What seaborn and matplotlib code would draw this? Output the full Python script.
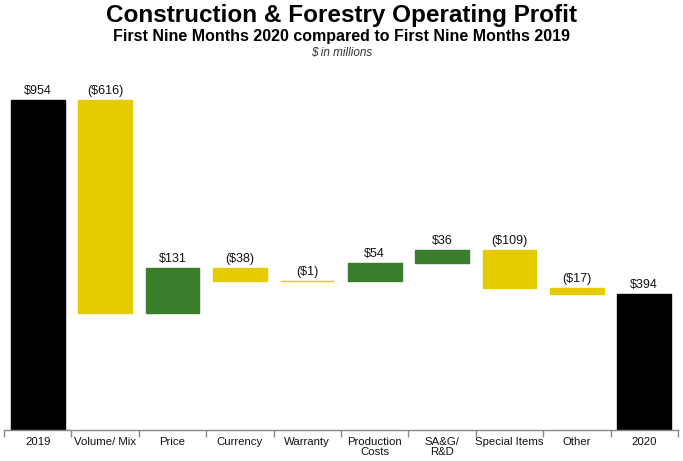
import numpy as np
import pandas as pd
import matplotlib
matplotlib.use("Agg")
import matplotlib.pyplot as plt
import seaborn as sns

# ===============================
# DATA
# ===============================
categories = ["2019", "Volume/ Mix", "Price", "Currency", "Warranty",
              "Production\nCosts", "SA&G/\nR&D", "Special Items", "Other", "2020"]
changes = [954, -616, 131, -38, -1, 54, 36, -109, -17, 394]
kinds = ["total", "neg", "pos", "neg", "neg", "pos", "pos", "neg", "neg", "total"]
labels = ["$954", "($616)", "$131", "($38)", "($1)", "$54", "$36", "($109)", "($17)", "$394"]

colors = {"total": "#000000", "pos": "#3A7D2A", "neg": "#E4CC00"}

# waterfall bottoms / heights
bottoms = []
heights = []
running = 0
for v, k in zip(changes, kinds):
    if k == "total":
        bottoms.append(0)
        heights.append(v)
        running = v
    else:
        new = running + v
        bottoms.append(min(running, new))
        heights.append(abs(v))
        running = new
tops = [b + h for b, h in zip(bottoms, heights)]

df = pd.DataFrame({"cat": categories, "height": heights})

# ===============================
# PLOT
# ===============================
sns.set_theme(style="white")
plt.rcParams["font.family"] = ["Liberation Sans", "DejaVu Sans"]
plt.rcParams["text.color"] = "#111111"

fig = plt.figure(figsize=(6.83, 4.61), dpi=100)
ax = fig.add_axes([4 / 683, 31 / 461, 674 / 683, 346 / 461])

sns.barplot(data=df, x="cat", y="height", bottom=bottoms, color="black",
            width=0.8, ax=ax, order=categories)
for p, k in zip(ax.patches, kinds):
    p.set_facecolor(colors[k])
    p.set_edgecolor(colors[k])
    p.set_linewidth(1.0)

for i, (t, lab) in enumerate(zip(tops, labels)):
    ax.text(i, t + 8, lab, ha="center", va="bottom", fontsize=9, color="#111111")

ax.set_ylim(0, 1000)
ax.set_xlim(-0.5, len(categories) - 0.5)
ax.set_xlabel("")
ax.set_ylabel("")
ax.set_yticks([])
for s in ["top", "right", "left"]:
    ax.spines[s].set_visible(False)
ax.spines["bottom"].set_color("#888888")
ax.spines["bottom"].set_linewidth(1)

ax.set_xticks(np.arange(len(categories)))
ax.set_xticklabels(categories, fontsize=8.2, color="#111111", linespacing=1.0)
ax.tick_params(axis="x", which="major", length=0, pad=5)
ax.set_xticks(np.arange(-0.5, len(categories)), minor=True)
ax.tick_params(axis="x", which="minor", bottom=True, length=5,
               color="#888888", width=1)

fig.text(0.5, 0.967, "Construction & Forestry Operating Profit",
         ha="center", va="center", fontsize=17.5, fontweight="bold", color="black")
fig.text(0.5, 0.92, "First Nine Months 2020 compared to First Nine Months 2019",
         ha="center", va="center", fontsize=11.5, fontweight="bold", color="black")
fig.text(0.5, 0.885, "$ in millions", ha="center", va="center",
         fontsize=8.5, style="italic", color="#333333")

fig.savefig("out.png", dpi=100)
